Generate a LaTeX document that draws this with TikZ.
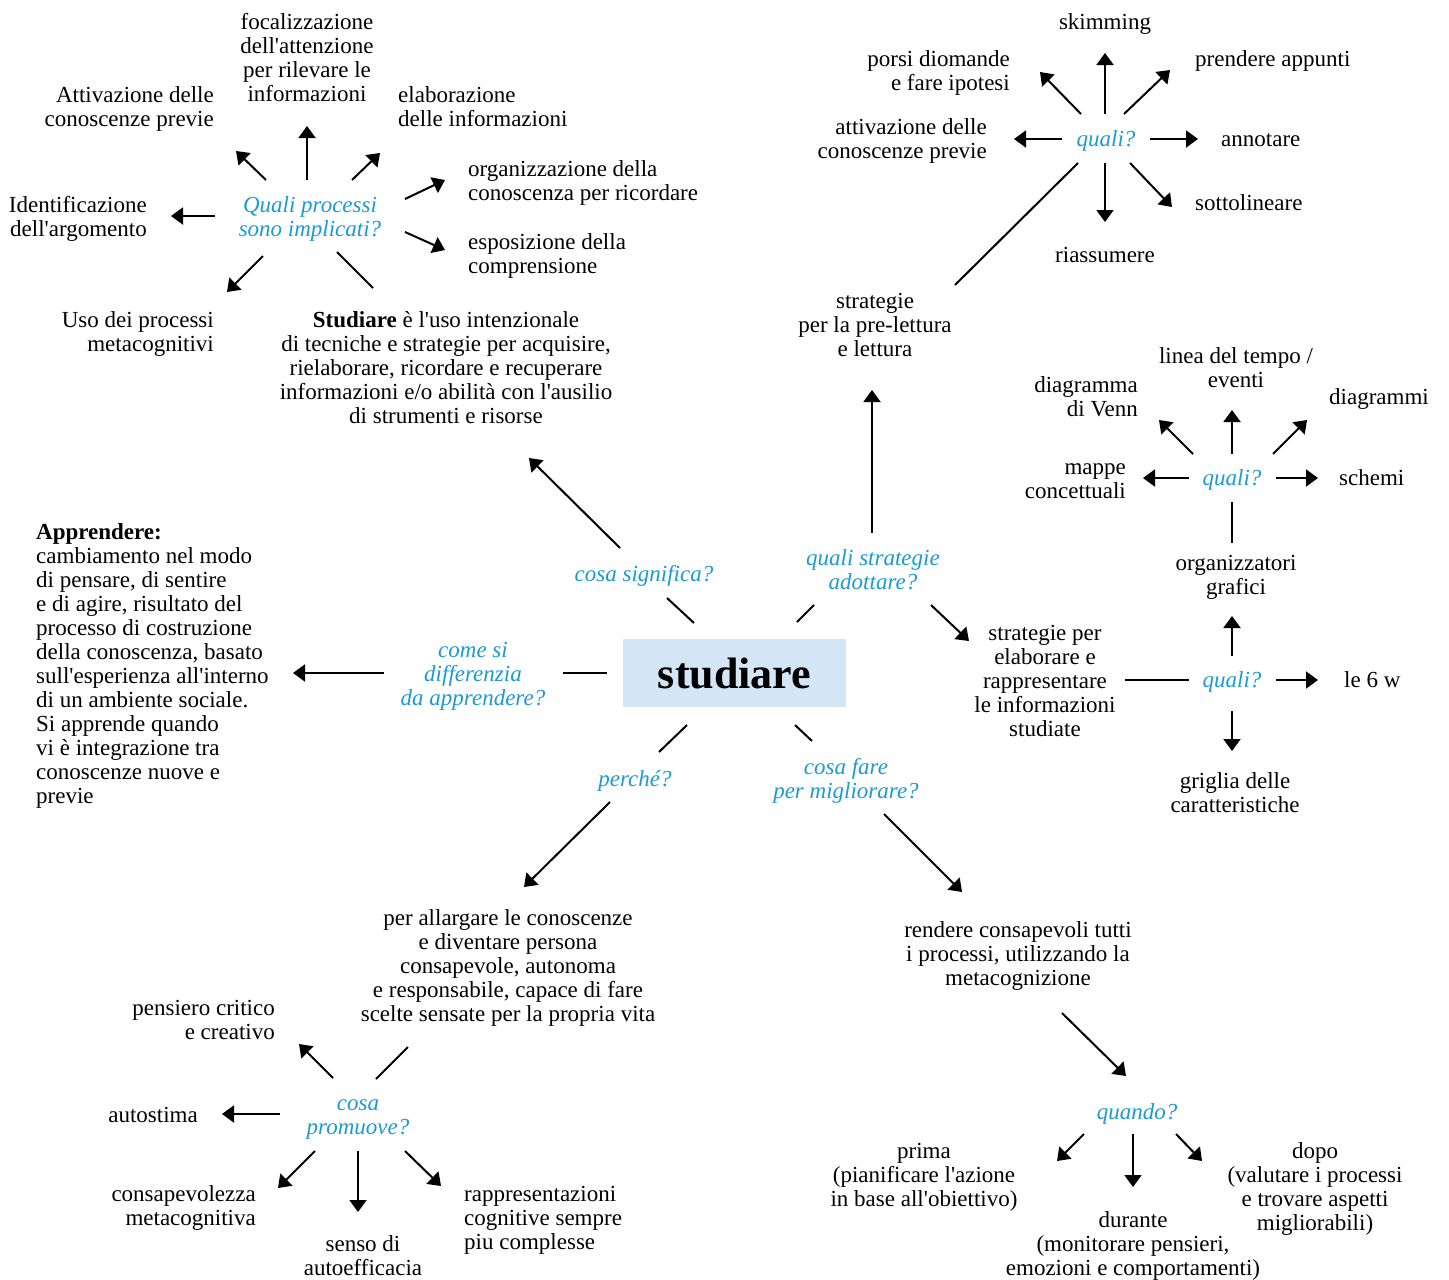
\documentclass[tikz,border=0pt]{standalone}
\usepackage{fontspec}
\setmainfont{Liberation Serif}
\usetikzlibrary{arrows.meta}
\definecolor{qblue}{HTML}{1B9AD6}
\definecolor{boxblue}{HTML}{D4E6F6}
\newcommand\fsz{\fontsize{23}{24}\selectfont}
\newcommand\apo{\textquotesingle}
\begin{document}
\begin{tikzpicture}[x=1pt,y=-1pt,
  txt/.style={font=\fsz, inner sep=0pt, text=black},
  tc/.style={txt, anchor=base, align=center},
  tl/.style={txt, anchor=base west, align=left},
  tr/.style={txt, anchor=base east, align=right},
  qq/.style={tc, font=\fsz\itshape, text=qblue},
  arr/.style={line width=2pt, -{Triangle[length=12pt,width=17pt]}},
  ln/.style={line width=2pt}]
\useasboundingbox (0,0) rectangle (1449,1280);
% (multi-line nodes: the base anchor is the baseline of the last line)

% ---------- centre ----------
\node[fill=boxblue, minimum width=223pt, minimum height=68pt, inner sep=0pt,
      font=\fontsize{44}{48}\selectfont\bfseries] (stud) at (734.5,673) {studiare};

\node[qq] (sig) at (644,581) {cosa significa?};
\node[qq] (strat) at (873,589) {quali strategie\\adottare?};
\node[qq] (diff) at (473,705) {come si\\differenzia\\da apprendere?};
\node[qq] (perche) at (635,786) {perché?};
\node[qq] (fare) at (846,798) {cosa fare\\per migliorare?};

% ---------- top left ----------
\node[tc] (foc) at (307,101) {focalizzazione\\dell\apo attenzione\\per rilevare le\\informazioni};
\node[tr] (attiv) at (214,126) {Attivazione delle\\conoscenze previe};
\node[tl] (elab) at (398,126) {elaborazione\\delle informazioni};
\node[tl] (orgc) at (468,200) {organizzazione della\\conoscenza per ricordare};
\node[tr] (ident) at (147,236) {Identificazione\\dell\apo argomento};
\node[qq] (qp) at (310,236) {Quali processi\\sono implicati?};
\node[tl] (espo) at (468,273) {esposizione della\\comprensione};
\node[tr] (uso) at (214,351) {Uso dei processi\\metacognitivi};
\node[tc] (def) at (446,423) {\textbf{Studiare} è l\apo uso intenzionale\\di tecniche e strategie per acquisire,\\rielaborare, ricordare e recuperare\\informazioni e/o abilità con l\apo ausilio\\di strumenti e risorse};

% ---------- apprendere ----------
\node[tl] (appr) at (36,803) {\textbf{Apprendere:}\\cambiamento nel modo\\di pensare, di sentire\\e di agire, risultato del\\processo di costruzione\\della conoscenza, basato\\sull\apo esperienza all\apo interno\\di un ambiente sociale.\\Si apprende quando\\vi è integrazione tra\\conoscenze nuove e\\previe};

% ---------- top right ----------
\node[tc] (skim) at (1105,29) {skimming};
\node[tr] (porsi) at (1010,90) {porsi diomande\\e fare ipotesi};
\node[tl] (prend) at (1195,66) {prendere appunti};
\node[tr] (attiv2) at (987,158) {attivazione delle\\conoscenze previe};
\node[qq] (q1) at (1106,146) {quali?};
\node[tl] (annot) at (1221,146) {annotare};
\node[tl] (sotto) at (1195,210) {sottolineare};
\node[tc] (riass) at (1105,262) {riassumere};
\node[tc] (prelet) at (875,356) {strategie\\per la pre-lettura\\e lettura};

% ---------- middle right ----------
\node[tc] (linea) at (1236,387) {linea del tempo /\\eventi};
\node[tr] (venn) at (1138,416) {diagramma\\di Venn};
\node[tl] (diagr) at (1329,404) {diagrammi};
\node[tr] (mappe) at (1126,498) {mappe\\concettuali};
\node[qq] (q2) at (1232,485) {quali?};
\node[tl] (schemi) at (1339,485) {schemi};
\node[tc] (orgg) at (1236,594) {organizzatori\\grafici};
\node[tc] (strat2) at (1045,736) {strategie per\\elaborare e\\rappresentare\\le informazioni\\studiate};
\node[qq] (q3) at (1232,687) {quali?};
\node[tl] (sei) at (1344,687) {le 6 w};
\node[tc] (griglia) at (1235,812) {griglia delle\\caratteristiche};

% ---------- bottom left ----------
\node[tc] (allarg) at (508,1021) {per allargare le conoscenze\\e diventare persona\\consapevole, autonoma\\e responsabile, capace di fare\\scelte sensate per la propria vita};
\node[tr] (pens) at (275,1039) {pensiero critico\\e creativo};
\node[qq] (prom) at (358,1134) {cosa\\promuove?};
\node[tr] (autos) at (198,1122) {autostima};
\node[tr] (consap) at (256,1225) {consapevolezza\\metacognitiva};
\node[tc] (senso) at (363,1275) {senso di\\autoefficacia};
\node[tl] (rappr) at (464,1249) {rappresentazioni\\cognitive sempre\\piu complesse};

% ---------- bottom right ----------
\node[tc] (rend) at (1018,985) {rendere consapevoli tutti\\i processi, utilizzando la\\metacognizione};
\node[qq] (quando) at (1137,1119) {quando?};
\node[tc] (prima) at (924,1206) {prima\\(pianificare l\apo azione\\in base all\apo obiettivo)};
\node[tc] (durante) at (1133,1275) {durante\\(monitorare pensieri,\\emozioni e comportamenti)};
\node[tc] (dopo) at (1315,1230) {dopo\\(valutare i processi\\e trovare aspetti\\migliorabili)};

% ---------- arrows ----------
\foreach \n/\xa/\ya/\xb/\yb in {
  a1/266/180/236/151, a2/307/180/307/126, a3/352/180/380/153,
  a4/405/199/445/180, a5/405/232/445/250, a6/215/216/171/216,
  a7/263/256/227/292,
  c1/620/548/529/458, c2/872/533/872/390, c3/931/605/969/641,
  c4/384/673/293/673, c5/610/802/524/887, c6/884/814/962/892,
  t1/1105/114/1105/53, t2/1081/114/1040/72, t3/1124/114/1170/70,
  t4/1062/139/1014/139, t5/1150/139/1198/139, t6/1105/163/1105/222,
  t7/1130/163/1172/207,
  m1/1193/454/1159/420, m2/1232/454/1232/410, m3/1273/454/1307/420,
  m4/1189/478/1143/478, m5/1276/478/1318/478, m6/1232/656/1232/616,
  m7/1276/680/1318/680, m8/1232/711/1232/751,
  b1/333/1078/299/1044, b2/280/1114/222/1114, b3/315/1151/278/1188,
  b4/358/1151/358/1212, b5/405/1151/441/1186,
  r1/1062/1013/1126/1076, r2/1084/1134/1057/1161, r3/1133/1134/1133/1187,
  r4/1176/1134/1202/1161}
{
  \coordinate (\n s) at (\xa,\ya);
  \coordinate (\n e) at (\xb,\yb);
  \draw[arr] (\n s) -- (\n e);
}

% ---------- plain lines ----------
\foreach \n/\xa/\ya/\xb/\yb in {
  l1/337/252/373/288, l2/667/598/694/623, l3/797/622/814/605,
  l4/563/673/607/673, l5/659/752/687/725, l6/795/725/812/741,
  l7/1078/163/955/285, l8/1232/502/1232/543, l9/1125/680/1189/680,
  l10/408/1047/376/1079}
{
  \coordinate (\n s) at (\xa,\ya);
  \coordinate (\n e) at (\xb,\yb);
  \draw[ln] (\n s) -- (\n e);
}
\end{tikzpicture}
\end{document}
